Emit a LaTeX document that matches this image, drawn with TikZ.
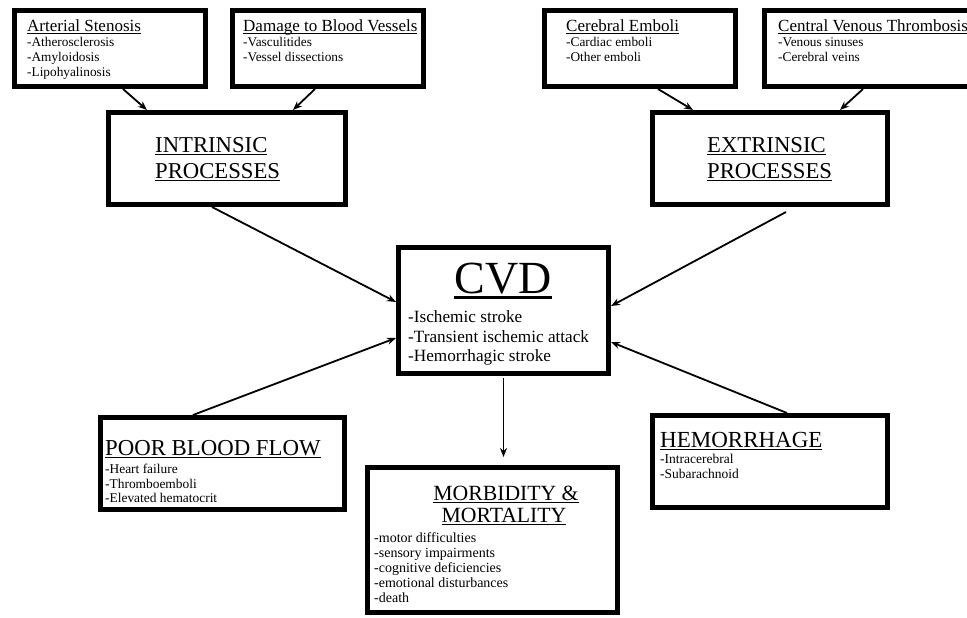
\documentclass[tikz,border=0pt]{standalone}
\usepackage{fontspec}
\setmainfont{Liberation Serif}
\usetikzlibrary{arrows.meta}
\newcommand\myul[1]{\setbox0=\hbox{#1}\rlap{\rule[-0.14em]{\wd0}{0.065em}}\box0}
\newcommand\fs[1]{\fontsize{#1}{#1}\selectfont}
\tikzset{
  box/.style={draw, line width=5pt, rectangle, inner sep=0pt, fill=white},
  txt/.style={anchor=base west, inner sep=0pt},
  ctxt/.style={anchor=base, inner sep=0pt},
  arr/.style={-{Stealth[length=9pt,width=7pt]}, line width=1.8pt},
}
\begin{document}
\begin{tikzpicture}[x=1pt,y=-1pt]
\useasboundingbox (0,0) rectangle (967,618);
\fill[white] (0,0) rectangle (967,618);
\clip (0,0) rectangle (967,618);

% boxes
\node[box, minimum width=191pt, minimum height=76pt] (a1) at (110,48.5) {};
\node[box, minimum width=191pt, minimum height=76pt] (a2) at (328,48.5) {};
\node[box, minimum width=191pt, minimum height=76pt] (a3) at (640,48.5) {};
\node[box, minimum width=226pt, minimum height=76pt] (a4) at (877.5,48.5) {};
\node[box, minimum width=237pt, minimum height=92pt] (intr) at (227,158.5) {};
\node[box, minimum width=235pt, minimum height=92pt] (extr) at (770,158.5) {};
\node[box, minimum width=210pt, minimum height=126pt] (cvd) at (503.5,310.5) {};
\node[box, minimum width=244pt, minimum height=92pt] (pbf) at (222.5,463.5) {};
\node[box, minimum width=250pt, minimum height=145pt] (morb) at (492.5,540) {};
\node[box, minimum width=235pt, minimum height=92pt] (hem) at (770,461.5) {};

% top-left boxes text
\node[txt] (a1t) at (27,32) {\fs{17}\myul{Arterial Stenosis}};
\node[txt] (a1i1) at (27,47) {\fs{13.3}-Atherosclerosis};
\node[txt] (a1i2) at (27,62) {\fs{13.3}-Amyloidosis};
\node[txt] (a1i3) at (27,77) {\fs{13.3}-Lipohyalinosis};

\node[txt] (a2t) at (243,32) {\fs{17}\myul{Damage to Blood Vessels}};
\node[txt] (a2i1) at (243,47) {\fs{13.3}-Vasculitides};
\node[txt] (a2i2) at (243,62) {\fs{13.3}-Vessel dissections};

\node[txt] (a3t) at (566,32) {\fs{17}\myul{Cerebral Emboli}};
\node[txt] (a3i1) at (566,47) {\fs{13.3}-Cardiac emboli};
\node[txt] (a3i2) at (566,62) {\fs{13.3}-Other emboli};

\node[txt] (a4t) at (778,32) {\fs{17}\myul{Central Venous Thrombosis}};
\node[txt] (a4i1) at (778,47) {\fs{13.3}-Venous sinuses};
\node[txt] (a4i2) at (778,62) {\fs{13.3}-Cerebral veins};

% process boxes
\node[txt] (intr1) at (155,152) {\fs{22.7}\myul{INTRINSIC}};
\node[txt] (intr2) at (155,178) {\fs{22.7}\myul{PROCESSES}};
\node[txt] (extr1) at (707,152) {\fs{22.7}\myul{EXTRINSIC}};
\node[txt] (extr2) at (707,178) {\fs{22.7}\myul{PROCESSES}};

% CVD
\node[ctxt] (cvdt) at (503,293) {\fs{46}\myul{CVD}};
\node[txt] (cvd1) at (408,322) {\fs{17.2}-Ischemic stroke};
\node[txt] (cvd2) at (408,342) {\fs{17.2}-Transient ischemic attack};
\node[txt] (cvd3) at (408,361) {\fs{17.2}-Hemorrhagic stroke};

% poor blood flow
\node[txt] (pbft) at (105,455) {\fs{22.8}\myul{POOR BLOOD FLOW}};
\node[txt] (pbf1) at (105,473) {\fs{13.4}-Heart failure};
\node[txt] (pbf2) at (105,488) {\fs{13.4}-Thromboemboli};
\node[txt] (pbf3) at (105,502) {\fs{13.4}-Elevated hematocrit};

% morbidity
\node[ctxt] (morbt1) at (506,500) {\fs{21.7}\myul{MORBIDITY \&}};
\node[ctxt] (morbt2) at (504,522) {\fs{21.7}\myul{MORTALITY}};
\node[txt] (morb1) at (374,542) {\fs{14}-motor difficulties};
\node[txt] (morb2) at (374,557) {\fs{14}-sensory impairments};
\node[txt] (morb3) at (374,572) {\fs{14}-cognitive deficiencies};
\node[txt] (morb4) at (374,587) {\fs{14}-emotional disturbances};
\node[txt] (morb5) at (374,602) {\fs{14}-death};

% hemorrhage
\node[txt] (hemt) at (660,447) {\fs{23}\myul{HEMORRHAGE}};
\node[txt] (hem1) at (660,463) {\fs{13.5}-Intracerebral};
\node[txt] (hem2) at (660,478) {\fs{13.5}-Subarachnoid};

% arrows
\draw[arr] ([xshift=111pt]a1.south west) -- ([xshift=41pt]intr.north west);
\draw[arr] ([xshift=85pt]a2.south west) -- ([xshift=187pt]intr.north west);
\draw[arr] ([xshift=116pt]a3.south west) -- ([xshift=43pt]extr.north west);
\draw[arr] ([xshift=101pt]a4.south west) -- ([xshift=190pt]extr.north west);
\draw[arr] ([xshift=106pt]intr.south west) -- ([yshift=8.5pt]cvd.west);
\draw[arr] ([xshift=136pt,yshift=-5pt]extr.south west) -- ([yshift=4.5pt]cvd.east);
\draw[arr] ([xshift=95pt]pbf.north west) -- ([yshift=-27.5pt]cvd.west);
\draw[arr] ([xshift=137pt]hem.north west) -- ([yshift=-31.5pt]cvd.east);
\coordinate (mtop) at (cvd.south |- morb.north);
\draw[arr] ([yshift=-2pt]cvd.south) -- ([yshift=8pt]mtop);
\end{tikzpicture}
\end{document}
